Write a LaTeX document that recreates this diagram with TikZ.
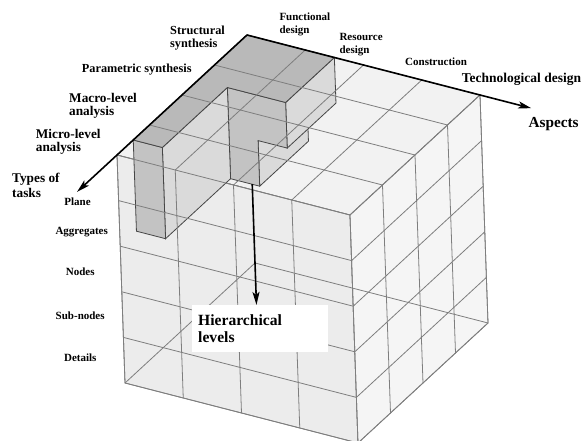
\documentclass[tikz,border=0pt]{standalone}
\usepackage{fontspec}
\setmainfont{Liberation Serif}
\usetikzlibrary{arrows.meta}

\definecolor{cubeline}{HTML}{7E7E7E}
\definecolor{cubetop}{HTML}{F2F2F2}
\definecolor{cubefront}{HTML}{ECECEC}
\definecolor{cuberight}{HTML}{F5F5F5}
\definecolor{blocktop}{HTML}{B9B9B9}
\definecolor{blockfront}{HTML}{C3C3C3}
\definecolor{blockside}{HTML}{DADADA}
\definecolor{blockline}{HTML}{464646}

\tikzset{
  gridline/.style={draw=cubeline, line width=0.8pt},
  blockface/.style={draw=blockline, line width=0.8pt},
  axisline/.style={line width=1.6pt, -{Stealth[length=13pt,width=7pt,inset=3pt]}},
  tasktext/.style={font=\fontsize{13.3}{13}\selectfont\bfseries, anchor=west, align=left, inner sep=0pt},
  aspecttext/.style={font=\fontsize{11}{12.8}\selectfont\bfseries, anchor=west, align=left, inner sep=0pt},
  leveltext/.style={font=\fontsize{11}{12}\selectfont\bfseries, inner sep=0pt}
}

\begin{document}
\begin{tikzpicture}[x=1pt,y=-1pt]
  \useasboundingbox (0,0) rectangle (582,441);

  \begin{scope}[shift={(247pt,-35pt)}, x={(58.25pt,-15pt)}, y={(-32.5pt,-30pt)}, z={(1.6pt,-45.6pt)}]

    \filldraw[gridline, fill=cubetop] (0,0,0) -- (4,0,0) -- (4,4,0) -- (0,4,0) -- cycle;
    \filldraw[gridline, fill=cubefront] (0,4,0) -- (4,4,0) -- (4,4,5) -- (0,4,5) -- cycle;
    \filldraw[gridline, fill=cuberight] (4,0,0) -- (4,4,0) -- (4,4,5) -- (4,0,5) -- cycle;
    \draw[gridline] (0,4,5) -- (0,0,5) -- (4,0,5);

    \begin{scope}[every path/.style={blockface}]
      \filldraw[fill=blockside] (1,0,1) -- (1,1.5,1) -- (1,1.5,2) -- (1,0,2) -- cycle;
      \filldraw[fill=blockside] (1.5,0,0) -- (1.5,1.5,0) -- (1.5,1.5,1) -- (1.5,0,1) -- cycle;
      \filldraw[fill=blockfront] (0.5,1.5,0) -- (1.5,1.5,0) -- (1.5,1.5,1) -- (1,1.5,1)
        -- (1,1.5,2) -- (0.5,1.5,2) -- cycle;
      \filldraw[fill=blockside] (0.5,1.5,0) -- (0.5,3.5,0) -- (0.5,3.5,2) -- (0.5,1.5,2) -- cycle;
      \filldraw[fill=blockfront] (0,3.5,0) -- (0.5,3.5,0) -- (0.5,3.5,2) -- (0,3.5,2) -- cycle;
      \filldraw[fill=blocktop] (0,0,0) -- (1.5,0,0) -- (1.5,1.5,0) -- (0.5,1.5,0)
        -- (0.5,3.5,0) -- (0,3.5,0) -- cycle;
    \end{scope}

    \foreach \k in {1,2,3} {
      \draw[gridline] (\k,0,0) -- (\k,4,0);
      \draw[gridline] (0,\k,0) -- (4,\k,0);
      \draw[gridline] (\k,4,0) -- (\k,4,5);
      \draw[gridline] (4,\k,0) -- (4,\k,5);
    }
    \foreach \k in {1,...,4} {
      \draw[gridline] (0,4,\k) -- (4,4,\k);
      \draw[gridline] (4,0,\k) -- (4,4,\k);
    }
    \draw[gridline] (0,4,0) -- (4,4,0) -- (4,0,0);
    \draw[gridline] (0,4,0) -- (0,4,5) -- (4,4,5) -- (4,0,5) -- (4,0,0);
    \draw[gridline] (4,4,0) -- (4,4,5);

    \coordinate (origin) at (0,0,0);
    \coordinate (tasks) at (0,5.23,0);
    \coordinate (aspects) at (4.88,0,0);
    \coordinate (levelstart) at (0,0,3.27);
    \coordinate (levels) at (0,0,5.92);

    \draw[axisline] (origin) -- (tasks);
    \draw[axisline] (origin) -- (aspects);
    \draw[axisline] (levelstart) -- (levels);
  \end{scope}

  \node[tasktext, font=\fontsize{12.3}{13.6}\selectfont\bfseries] (structural) at (170,38) {Structural\\synthesis};
  \node[tasktext, font=\fontsize{12.3}{13.6}\selectfont\bfseries] (parametric) at (81.7,69.5) {Parametric synthesis};
  \node[tasktext] (macro) at (69,106) {Macro-level\\analysis};
  \node[tasktext] (micro) at (35.7,142) {Micro-level\\analysis};
  \node[tasktext, font=\fontsize{13.3}{14.8}\selectfont\bfseries] (types) at (12,185) {Types of\\tasks};

  \node[aspecttext] (functional) at (279.3,24) {Functional\\design};
  \node[aspecttext] (resource) at (339.3,45) {Resource\\design};
  \node[aspecttext] (construction) at (405,62) {Construction};
  \node[tasktext, font=\fontsize{13.5}{15}\selectfont\bfseries] (technological) at (461.7,79.5) {Technological design};
  \node[tasktext, font=\fontsize{15.3}{16}\selectfont\bfseries] (aspectsname) at (528.3,124.5) {Aspects};

  \node[leveltext] (plane) at (77.5,202) {Plane};
  \node[leveltext] (aggregates) at (81.7,232) {Aggregates};
  \node[leveltext] (nodes) at (80.3,271.5) {Nodes};
  \node[leveltext] (subnodes) at (80.2,315.5) {Sub-nodes};
  \node[leveltext] (details) at (80.3,357.5) {Details};

  \node[fill=white, anchor=north west, inner xsep=6pt, inner ysep=0pt, text width=124pt,
        minimum height=47pt, align=left, font=\fontsize{15.6}{16.6}\selectfont\bfseries]
        (hierarchical) at (192,305) {Hierarchical\\levels};
\end{tikzpicture}
\end{document}
